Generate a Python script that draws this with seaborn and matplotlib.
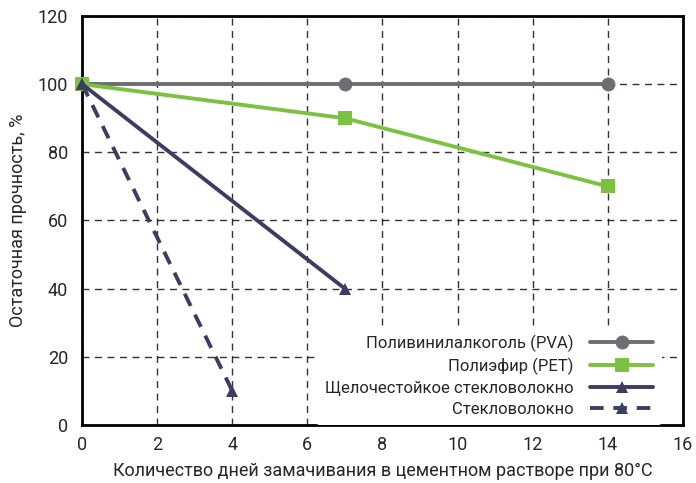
import matplotlib
matplotlib.use("Agg")
import matplotlib.pyplot as plt
import seaborn as sns
import pandas as pd

sns.set_theme(style="white")
plt.rcParams['font.family'] = ['Roboto', 'DejaVu Sans']

labels = ["Поливинилалкоголь (PVA)", "Полиэфир (PET)", "Щелочестойкое стекловолокно", "Стекловолокно"]
pva_days = [0, 7, 14]
pva_vals = [100, 100, 100]
pet_days = [0, 7, 14]
pet_vals = [100, 90, 70]
ar_days = [0, 7]
ar_vals = [100, 40]
gl_days = [0, 4]
gl_vals = [100, 10]

series = [(pva_days, pva_vals), (pet_days, pet_vals), (ar_days, ar_vals), (gl_days, gl_vals)]
colors = ["#6d6e71", "#7dc142", "#3b3d63", "#3b3d63"]
markers = ["o", "s", "^", "^"]
styles = ["-", "-", "-", "--"]
msizes = [10, 10, 8, 8]

fig = plt.figure(figsize=(6.96, 4.83), dpi=100)
ax = fig.add_axes([0.118, 0.12, 0.863, 0.847])

for i, (lab, (d, v)) in enumerate(zip(labels, series)):
    df = pd.DataFrame({"x": d, "y": v})
    sns.lineplot(data=df, x="x", y="y", ax=ax, color=colors[i], marker=markers[i],
                 markersize=msizes[i], markeredgewidth=0, linewidth=2.8,
                 linestyle=styles[i], label=lab, zorder=3, clip_on=False)
    if styles[i] == "--":
        ax.lines[-1].set_dashes((3.5, 2.5))

ax.set_xlim(0, 16)
ax.set_ylim(0, 120)
ax.set_xticks(range(0, 17, 2))
ax.set_yticks(range(0, 121, 20))
ax.grid(True, color="black", linestyle=(0, (5, 4)), linewidth=1, alpha=0.8)
for s in ax.spines.values():
    s.set_color("black")
    s.set_linewidth(2)
ax.tick_params(axis="x", direction="in", length=4, color="black", labelsize=13, pad=8)
ax.tick_params(axis="y", length=0, labelsize=13, pad=10)
ax.set_xlabel("Количество дней замачивания в цементном растворе при 80°C", fontsize=13, labelpad=6)
ax.set_ylabel("Остаточная прочность, %", fontsize=13, labelpad=8)

leg = ax.legend(loc="lower right", markerfirst=False, frameon=True, fontsize=12,
                handlelength=3.8, borderaxespad=0.0, labelspacing=0.35, handletextpad=1.0,
                borderpad=0.5, bbox_to_anchor=(0.965, 0.0))
leg.get_frame().set_facecolor("white")
leg.get_frame().set_edgecolor("none")
leg.get_frame().set_alpha(1)
leg.set_zorder(5)
for t in leg.get_texts():
    t.set_ha("right")

fig.savefig("out.png", dpi=100)
